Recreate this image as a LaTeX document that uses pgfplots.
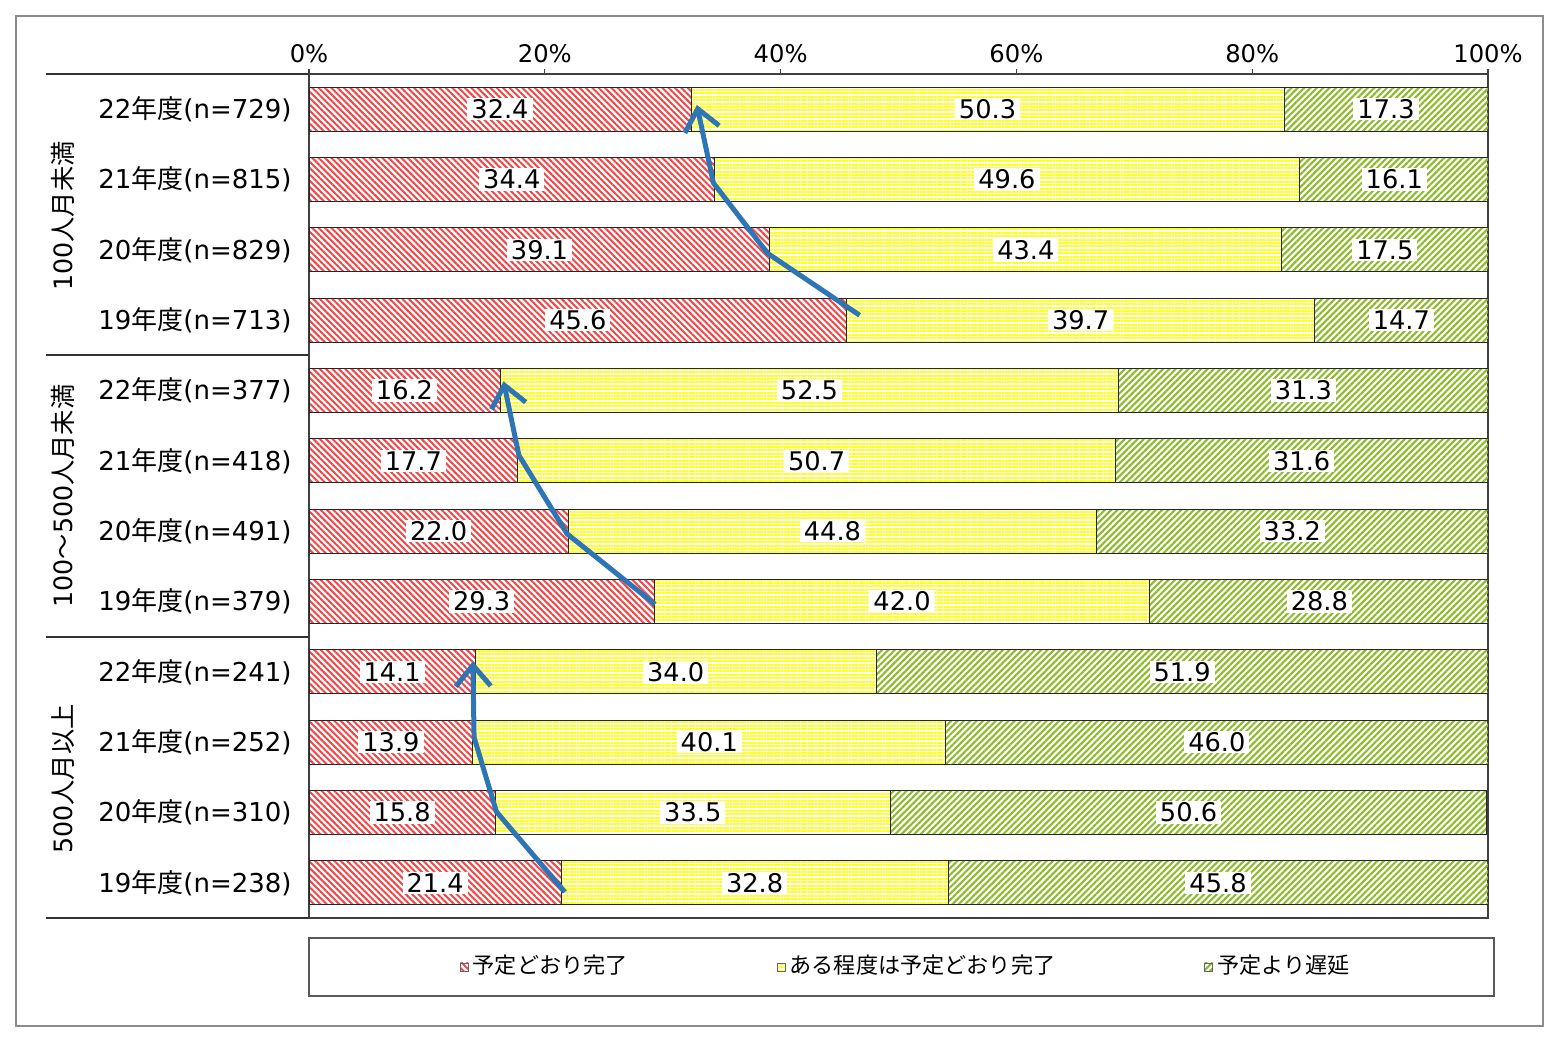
\documentclass[border=0pt]{standalone}
\usepackage{fontspec}
\setmainfont{DejaVu Sans}
\newfontfamily\jp{Noto Sans CJK JP}
\usepackage{pgfplots}
\pgfplotsset{compat=1.18}
\usepackage{pgfplotstable}
\usetikzlibrary{patterns.meta, arrows.meta}

\definecolor{cred}{RGB}{240,70,70}
\definecolor{cyel}{RGB}{255,255,40}
\definecolor{cgrn}{RGB}{140,186,40}
\definecolor{carrow}{RGB}{46,117,182}
\newcommand\fs{\fontsize{7.4pt}{9pt}\selectfont}
\newcommand\fg{\fontsize{7.2pt}{9pt}\selectfont}
\newcommand\ft{\fontsize{6.9pt}{9pt}\selectfont}
\newcommand\fd{\fontsize{7.3pt}{9pt}\selectfont}
\newcommand\fl{\fontsize{6.3pt}{8pt}\selectfont\jp}
\pgfplotsset{/pgf/number format/assume math mode=true}

\pgfplotstableread{
y a b c
12 32.4 50.3 17.3
11 34.4 49.6 16.1
10 39.1 43.4 17.5
9 45.6 39.7 14.7
8 16.2 52.5 31.3
7 17.7 50.7 31.6
6 22.0 44.8 33.2
5 29.3 42.0 28.8
4 14.1 34.0 51.9
3 13.9 40.1 46.0
2 15.8 33.5 50.6
1 21.4 32.8 45.8
}\data

\pgfplotsset{
  common/.style={
    at={(30.9mm,-7.4mm)}, anchor=north west,
    scale only axis, width=117.9mm, height=84.4mm,
    xmin=0, xmax=100, ymin=0.5, ymax=12.5,
  },
  lbl/.style={draw=none, point meta=explicit,
    nodes near coords={\pgfmathprintnumber[fixed,fixed zerofill,precision=1]{\pgfplotspointmeta}}},
  arr/.style={carrow, line width=0.5mm, line join=round, -{Straight Barb[length=2.1mm, width=3.5mm]}},
}

\begin{document}
\begin{tikzpicture}
\useasboundingbox (0,0) rectangle (156.2mm,-104.2mm);
\begin{axis}[common,
  xbar stacked, bar width=0.6256,
  xtick={0,20,...,100},
  xticklabel={\pgfmathprintnumber{\tick}\%},
  xtick pos=right, xticklabel pos=right,
  tick align=outside, major tick length=0.5mm,
  xticklabel style={font=\ft, yshift=-0.6mm},
  ytick={1,...,12},
  yticklabels={19{\jp 年度}(n=238),20{\jp 年度}(n=310),21{\jp 年度}(n=252),22{\jp 年度}(n=241),
               19{\jp 年度}(n=379),20{\jp 年度}(n=491),21{\jp 年度}(n=418),22{\jp 年度}(n=377),
               19{\jp 年度}(n=713),20{\jp 年度}(n=829),21{\jp 年度}(n=815),22{\jp 年度}(n=729)},
  yticklabel style={font=\fs, xshift=0mm},
  ytick style={draw=none},
  axis line style={draw=black!75, line width=0.12mm},
  xtick style={draw=black!75, line width=0.12mm},
  legend columns=3,
  legend style={at={(rel axis cs:0.507,-0.058)}, anchor=center, draw=none, fill=none,
    font=\fl, /tikz/every even column/.append style={column sep=14.5mm},
    nodes={inner xsep=0.4mm}},
  legend image code/.code={\draw[#1, draw=black!60, line width=0.08mm] (0mm,-0.4mm) rectangle (0.8mm,0.4mm);},
]
\addplot[draw=black!85, line width=0.1mm, pattern={Lines[angle=-45,distance=0.45mm,line width=0.2mm]}, pattern color=cred] table[x=a,y=y]{\data};
\addplot[draw=black!85, line width=0.1mm, pattern={Lines[angle=0,distance=0.34mm,line width=0.2mm]}, pattern color=cyel] table[x=b,y=y]{\data};
\addplot[draw=black!85, line width=0.1mm, pattern={Lines[angle=45,distance=0.45mm,line width=0.21mm]}, pattern color=cgrn] table[x=c,y=y]{\data};
\legend{予定どおり完了, ある程度は予定どおり完了, 予定より遅延}
\end{axis}

\begin{axis}[common, hide axis, clip=false,
  every node near coord/.append style={anchor=center, fill=white, inner xsep=0.4mm, inner ysep=0.15mm, font=\fd, text=black},
]
\addplot[lbl] table[x expr=\thisrow{a}/2, y=y, meta=a]{\data};
\addplot[lbl] table[x expr=\thisrow{a}+\thisrow{b}/2, y=y, meta=b]{\data};
\addplot[lbl] table[x expr=\thisrow{a}+\thisrow{b}+\thisrow{c}/2, y=y, meta=c]{\data};
\addplot[arr] coordinates {(46.7,9.07) (38.9,9.95) (34.3,10.95) (32.9,12.06)};
\addplot[arr] coordinates {(29.35,4.96) (21.9,5.96) (17.8,7.08) (16.5,8.13)};
\addplot[arr] coordinates {(21.7,0.87) (15.9,2.01) (14.0,3.07) (13.9,4.15)};
\end{axis}

\begin{scope}[x=0.1mm, y=-0.1mm]
\draw[black!45, line width=0.15mm] (16,16) rectangle (1543,1026);
\foreach \yy in {74,355,637,918} \draw[black!80, line width=0.12mm] (46,\yy) -- (309,\yy);
\node[rotate=90, font=\fg] at (63,216) {100{\jp 人月未満}};
\node[rotate=90, font=\fg] at (63,496) {100{\jp ～}500{\jp 人月未満}};
\node[rotate=90, font=\fg] at (63,779) {500{\jp 人月以上}};
\draw[black!65, line width=0.15mm] (309,938) rectangle (1494,996);
\end{scope}
\end{tikzpicture}
\end{document}
